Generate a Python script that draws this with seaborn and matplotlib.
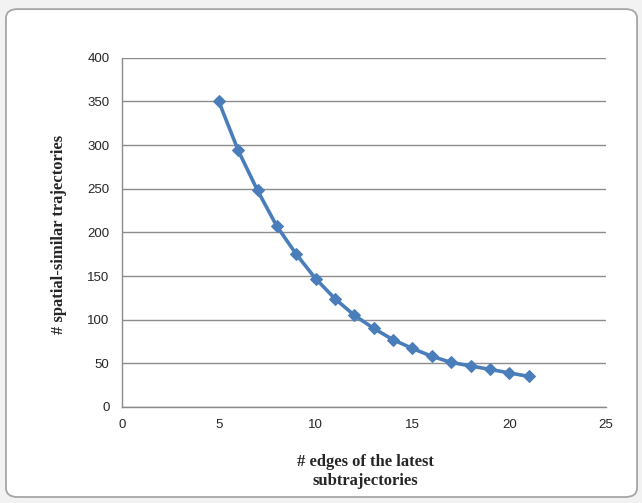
import matplotlib
matplotlib.use("Agg")
import matplotlib.pyplot as plt
import seaborn as sns
import pandas as pd
from matplotlib.patches import FancyBboxPatch

edges = [5, 6, 7, 8, 9, 10, 11, 12, 13, 14, 15, 16, 17, 18, 19, 20, 21]
similar = [350, 294, 248, 207, 175, 147, 124, 105, 90, 77, 67, 58, 51, 47, 43, 39, 35]

x_ticks = [0, 5, 10, 15, 20, 25]
y_ticks = [0, 50, 100, 150, 200, 250, 300, 350, 400]

df = pd.DataFrame({"edges": edges, "similar": similar})

sns.set_style("white")
fig = plt.figure(figsize=(6.42, 5.03), dpi=100)
fig.patch.set_facecolor("#f2f2f2")

# chart frame, kept behind the axes
frame = FancyBboxPatch((0.0093, 0.0119), 0.983, 0.970,
                       boxstyle="round,pad=0,rounding_size=0.018",
                       transform=fig.transFigure, facecolor="white",
                       edgecolor="#a6a6a6", linewidth=1.3, zorder=-10)
fig.patches.append(frame)

ax = fig.add_axes([0.19, 0.191, 0.754, 0.694])
ax.set_zorder(5)
ax.set_facecolor("none")

sns.lineplot(data=df, x="edges", y="similar", ax=ax, color="#4a7ebb",
             linewidth=2.6, marker="D", markersize=6.5,
             markeredgecolor="#4a7ebb")

ax.set_xlim(0, 25)
ax.set_ylim(0, 400)
ax.set_xticks(x_ticks)
ax.set_yticks(y_ticks)
ax.set_xticklabels([str(v) for v in x_ticks], fontsize=9.5, family="Liberation Sans")
ax.set_yticklabels([str(v) for v in y_ticks], fontsize=9.5, family="Liberation Sans")
ax.grid(axis="y", color="#8c8c8c", linewidth=1.0)
ax.grid(axis="x", visible=False)
ax.set_axisbelow(True)

for side in ("top", "right"):
    ax.spines[side].set_visible(False)
for side in ("left", "bottom"):
    ax.spines[side].set_color("#8c8c8c")
    ax.spines[side].set_linewidth(1.0)
ax.tick_params(axis="both", direction="out", length=4, width=1.0,
               color="#8c8c8c", pad=5)

ax.set_xlabel("# edges of the latest\nsubtrajectories", fontsize=12,
              family="Liberation Serif", fontweight="bold",
              linespacing=1.25)
ax.xaxis.set_label_coords(0.503, -0.135)
ax.set_ylabel("# spatial-similar trajectories", fontsize=12,
              family="Liberation Serif", fontweight="bold")
ax.yaxis.set_label_coords(-0.113, 0.494)

fig.savefig("out.png", dpi=100, facecolor=fig.get_facecolor())
